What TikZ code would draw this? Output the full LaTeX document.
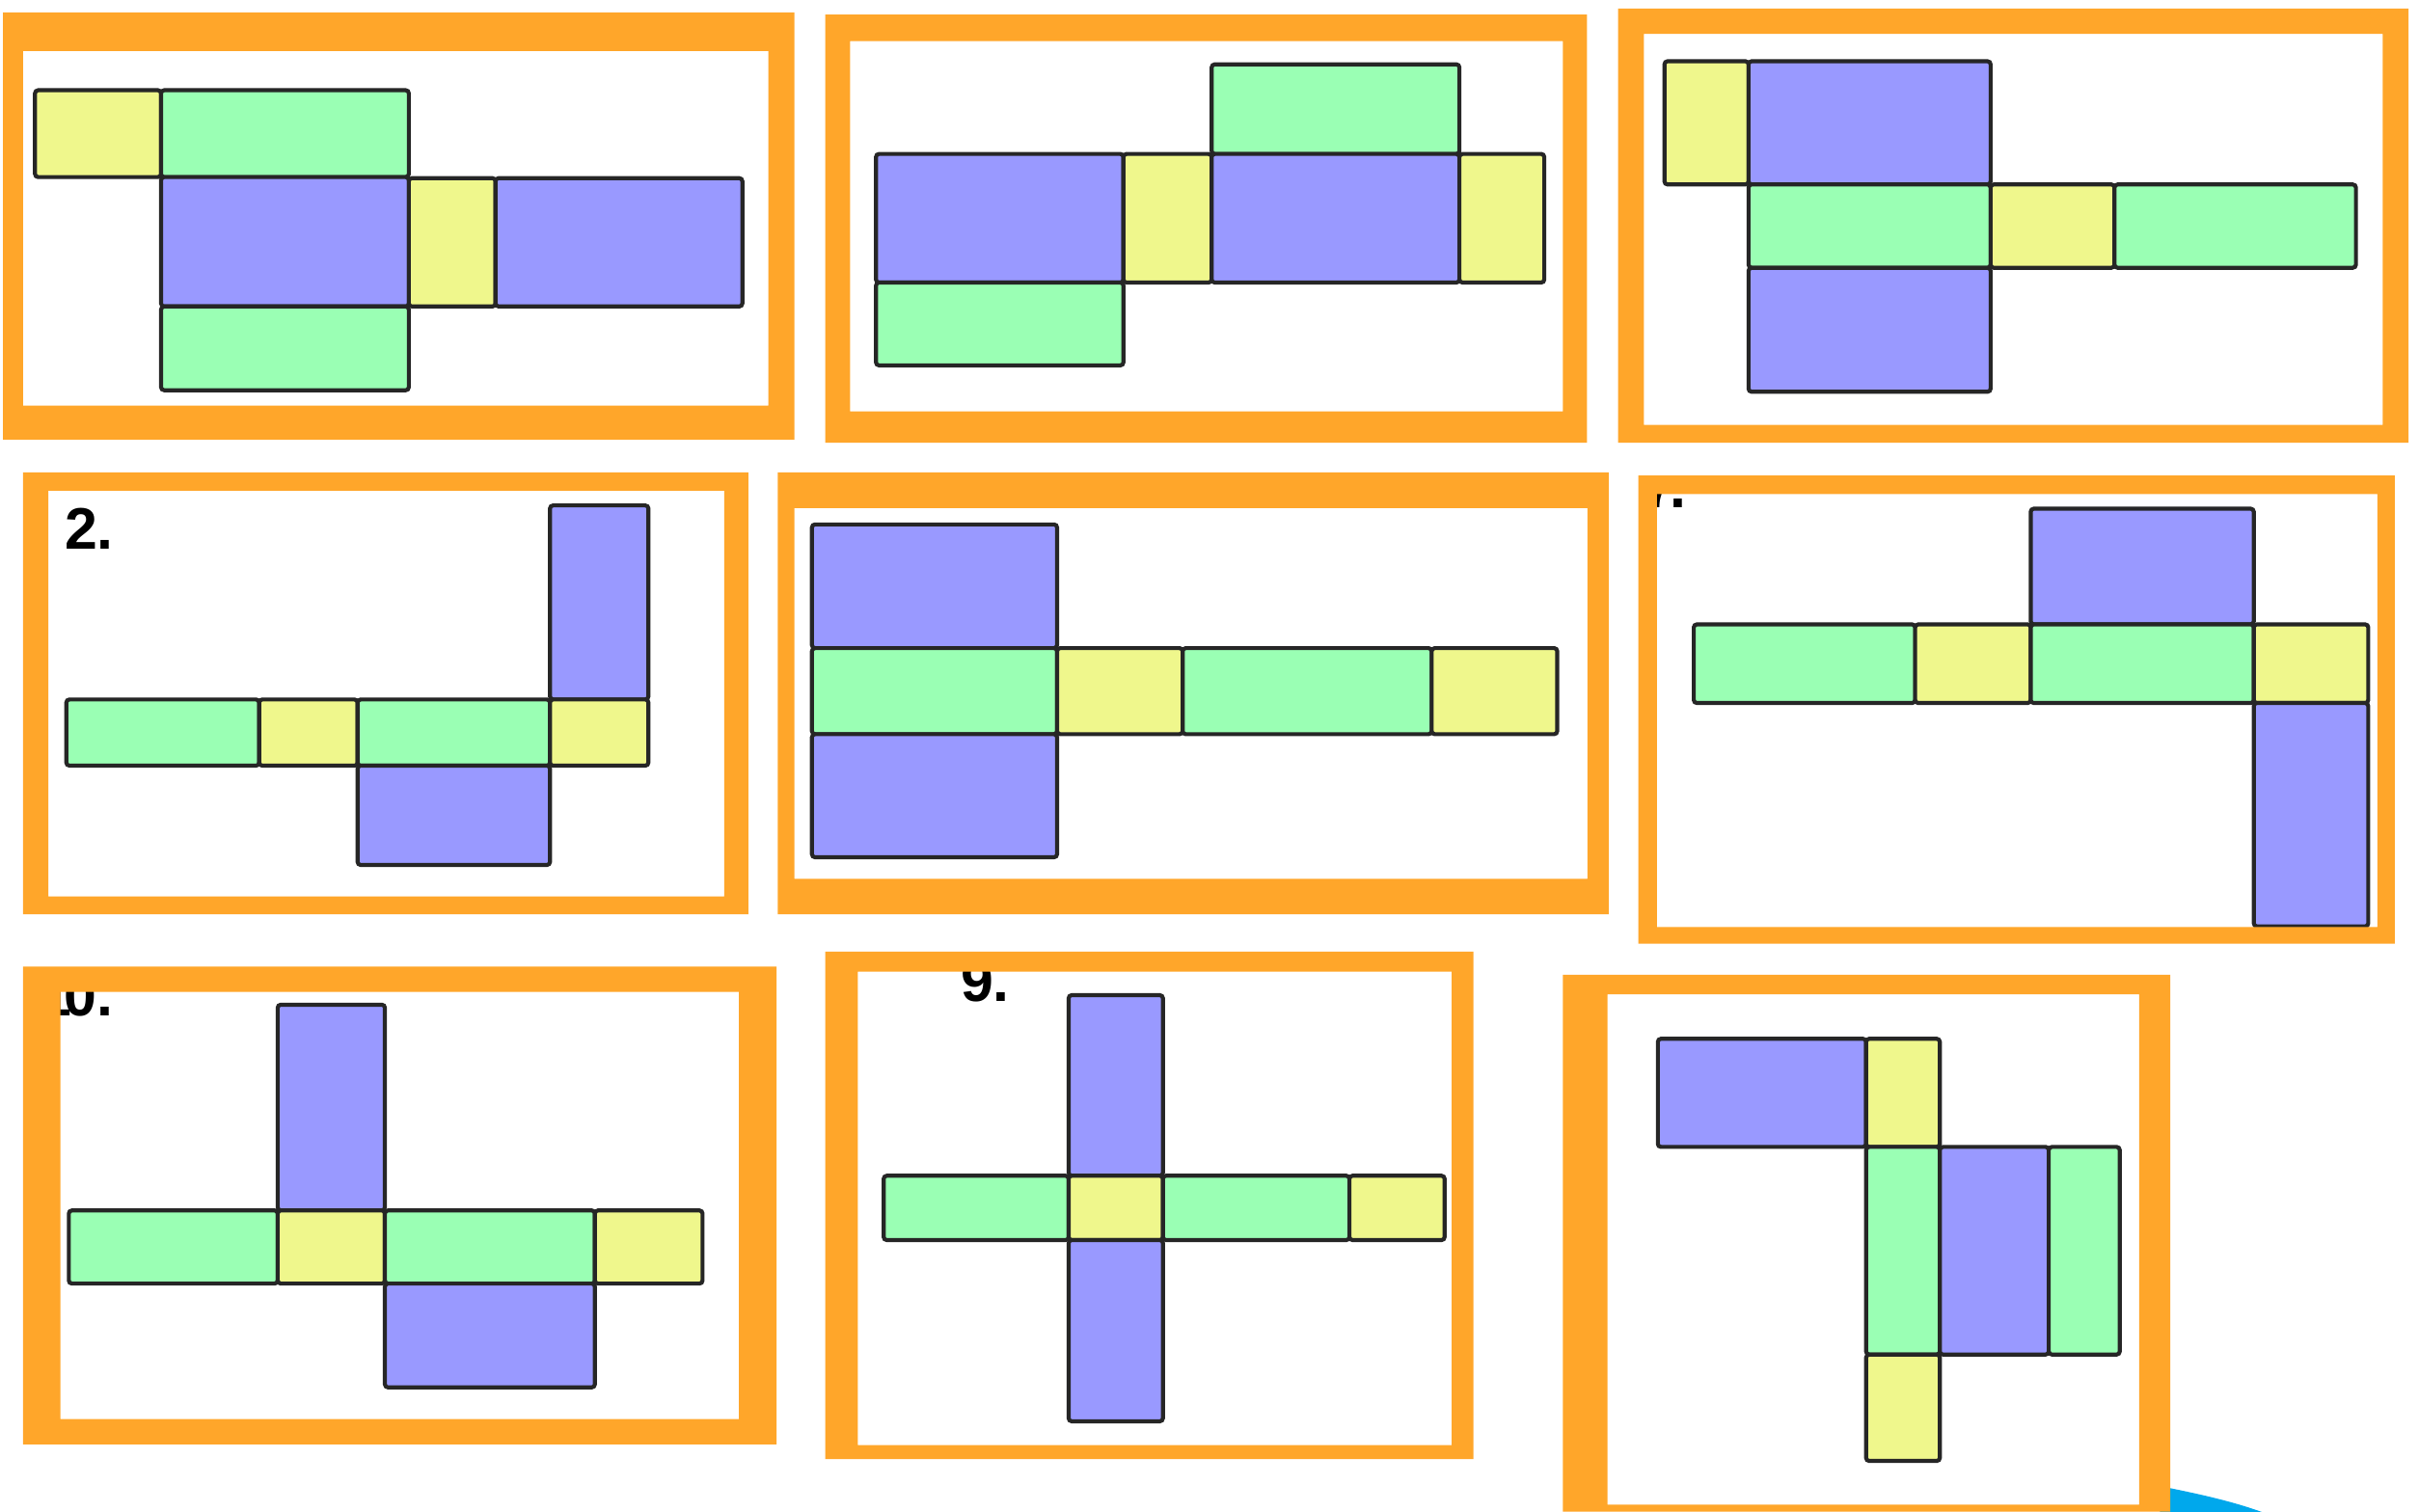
\documentclass[tikz,border=0pt]{standalone}
\usepackage{fontspec}
\newfontfamily\labfont{Liberation Sans}
\definecolor{framec}{RGB}{255,166,42}
\definecolor{greenc}{RGB}{154,255,180}
\definecolor{bluec}{RGB}{153,153,255}
\definecolor{yellowc}{RGB}{239,247,140}
\definecolor{cyanc}{RGB}{0,168,236}
\tikzset{
  face/.style={draw=black!85, line width=1.3pt, rounded corners=1pt},
  gf/.style={face, fill=greenc},
  bf/.style={face, fill=bluec},
  yf/.style={face, fill=yellowc},
  frame/.style={fill=framec, even odd rule},
  numlab/.style={anchor=base west, inner sep=0pt, font=\labfont\bfseries\fontsize{19}{19}\selectfont}
}
\begin{document}
\begin{tikzpicture}[x=0.5pt,y=-0.5pt]
\useasboundingbox (0,0) rectangle (1568,980);
\fill[white] (0,0) rectangle (1568,980);

% cyan shape bottom right
\fill[cyanc] (1400,963.5) .. controls (1425,968.5) and (1448,973.5) .. (1468,981) -- (1400,981) -- cycle;

% ---- Panel 1
\draw[yf] (22.7,58.5) rectangle (104.4,114.8);
\draw[gf] (104.4,58.5) rectangle (265,114.8);
\draw[bf] (104.4,114.8) rectangle (265,198.7);
\draw[yf] (265,115.5) rectangle (321.2,198.7);
\draw[bf] (321.2,115.5) rectangle (481.2,198.7);
\draw[gf] (104.4,198.7) rectangle (265,253);

% ---- Panel 2
\draw[gf] (785.4,41.7) rectangle (946,99.8);
\draw[bf] (567.8,99.8) rectangle (728.2,183.2);
\draw[yf] (728.2,99.8) rectangle (785.4,183.2);
\draw[bf] (785.4,99.8) rectangle (946,183.2);
\draw[yf] (946,99.8) rectangle (1001,183.2);
\draw[gf] (567.8,183.2) rectangle (728.2,236.9);

% ---- Panel 3
\draw[yf] (1078.9,39.7) rectangle (1133.4,119.6);
\draw[bf] (1133.4,39.7) rectangle (1290.3,119.6);
\draw[gf] (1133.4,119.6) rectangle (1290.3,173.6);
\draw[yf] (1290.3,119.6) rectangle (1370.6,173.6);
\draw[gf] (1370.6,119.6) rectangle (1527.1,173.6);
\draw[bf] (1133.4,173.6) rectangle (1290.3,254);

% ---- Panel 4
\node[numlab] (lab2) at (41.5,356) {2.};
\draw[bf] (356.5,327.7) rectangle (420.3,453.5);
\draw[gf] (43,453.5) rectangle (168,496.4);
\draw[yf] (168,453.5) rectangle (231.8,496.4);
\draw[gf] (231.8,453.5) rectangle (356.5,496.4);
\draw[yf] (356.5,453.5) rectangle (420.3,496.4);
\draw[bf] (231.8,496.4) rectangle (356.5,560.8);

% ---- Panel 5
\draw[bf] (526.3,340) rectangle (685.2,420.2);
\draw[gf] (526.3,420.2) rectangle (685.2,476);
\draw[bf] (526.3,476) rectangle (685.2,555.8);
\draw[yf] (685.2,420.2) rectangle (766.6,476);
\draw[gf] (766.6,420.2) rectangle (928,476);
\draw[yf] (928,420.2) rectangle (1009.4,476);

% ---- Panel 6
\begin{scope}
\clip (1074,320.4) rectangle (1541,601);
\node[numlab] (lab7) at (1064.8,329) {7\kern-2pt.};
\end{scope}
\draw[bf] (1316.3,329.8) rectangle (1460.9,404.8);
\draw[gf] (1097.9,404.8) rectangle (1241.4,455.8);
\draw[yf] (1241.4,404.8) rectangle (1316.3,455.8);
\draw[gf] (1316.3,404.8) rectangle (1460.9,455.8);
\draw[yf] (1460.9,404.8) rectangle (1535.1,455.8);
\draw[bf] (1460.9,455.8) rectangle (1535.1,600.6);

% ---- Panel 7
\begin{scope}
\clip (39.2,643.1) rectangle (479,920);
\node[numlab] (lab10) at (25,658.5) {1\kern-2.5pt0.};
\end{scope}
\draw[bf] (180,651.4) rectangle (249.5,784.8);
\draw[gf] (44.6,784.8) rectangle (180,832.2);
\draw[yf] (180,784.8) rectangle (249.5,832.2);
\draw[gf] (249.5,784.8) rectangle (385.6,832.2);
\draw[yf] (385.6,784.8) rectangle (455.4,832.2);
\draw[bf] (249.5,832.2) rectangle (385.6,899.5);

% ---- Panel 8
\begin{scope}
\clip (556,630) rectangle (941,937);
\node[numlab] (lab9) at (622.4,649) {9.};
\end{scope}
\draw[bf] (692.7,645.2) rectangle (753.8,762.3);
\draw[gf] (572.8,762.3) rectangle (692.7,804);
\draw[yf] (692.7,762.3) rectangle (753.8,804);
\draw[gf] (753.8,762.3) rectangle (874.7,804);
\draw[yf] (874.7,762.3) rectangle (936.4,804);
\draw[bf] (692.7,804) rectangle (753.8,921.5);

% ---- Panel 9
\draw[bf] (1074.6,673.5) rectangle (1209.6,743.6);
\draw[yf] (1209.6,673.5) rectangle (1257.4,743.6);
\draw[gf] (1209.6,743.6) rectangle (1257.4,878.2);
\draw[bf] (1257.4,743.6) rectangle (1328,878.2);
\draw[gf] (1328,743.6) rectangle (1374,878.2);
\draw[yf] (1209.6,878.2) rectangle (1257.4,947.2);

% ---- orange frames
\fill[frame] (2,8) rectangle (515,285) (15,33) rectangle (498,263);
\fill[frame] (535,9.4) rectangle (1028.7,287) (551,26.7) rectangle (1013,266.7);
\fill[frame] (1048.8,5.6) rectangle (1561.2,287) (1065.5,21.9) rectangle (1544.5,275.5);
\fill[frame] (15,306.2) rectangle (485,592.7) (31.3,318.1) rectangle (469.4,581.2);
\fill[frame] (504.2,306.2) rectangle (1042.7,592.7) (515,329.4) rectangle (1029,569.8);
\fill[frame] (1061.9,308.3) rectangle (1552.3,611.8) (1074,320.4) rectangle (1541,601);
\fill[frame] (15,626.6) rectangle (503.3,936.5) (39.2,643.1) rectangle (479,920);
\fill[frame] (535,617) rectangle (955,946) (556,630) rectangle (941,937);
\fill[frame] (1013,632) rectangle (1406.7,980) (1042,644.7) rectangle (1386.6,975.6);
\end{tikzpicture}
\end{document}
